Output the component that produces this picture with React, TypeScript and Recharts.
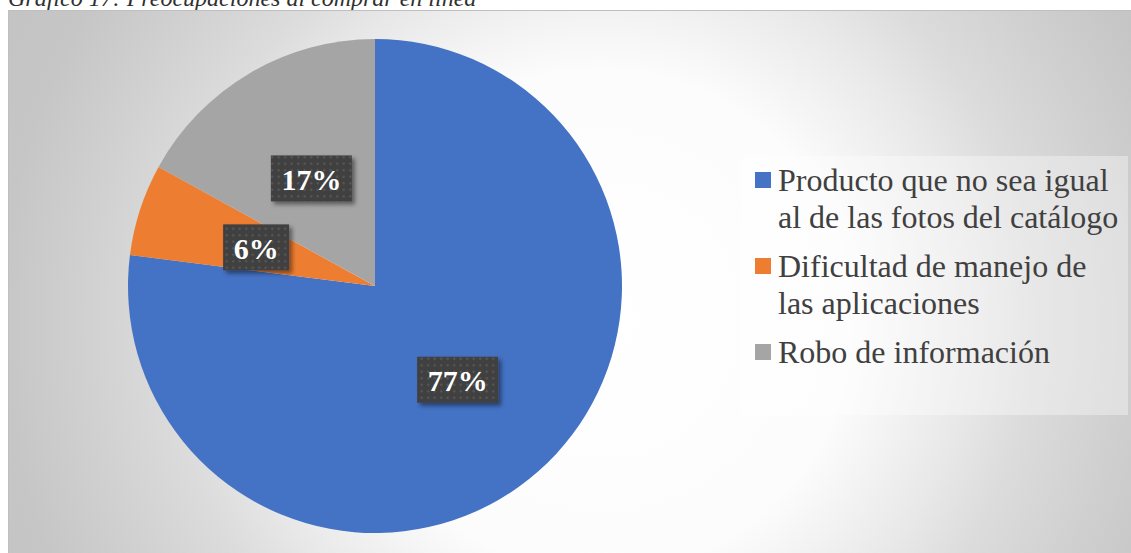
import React from 'react';
import { PieChart, Pie, Cell, Legend } from 'recharts';

const TITLE = 'Gráfico 17: Preocupaciones al comprar en línea';
const CATEGORIES = [
  'Producto que no sea igual al de las fotos del catálogo',
  'Dificultad de manejo de las aplicaciones',
  'Robo de información',
];
const VALUES = [77, 6, 17];
const COLORS = ['#4472C4', '#ED7D31', '#A5A5A5'];

const data = CATEGORIES.map((name, i) => ({ name, value: VALUES[i] }));

const RAD = Math.PI / 180;
const SERIF = "'Liberation Serif'";

const renderLabel = (props: any) => {
  const { cx, cy, midAngle, outerRadius, value } = props;
  const r = outerRadius * 0.506;
  const x = cx + r * Math.cos(-midAngle * RAD);
  const y = cy + r * Math.sin(-midAngle * RAD);
  const text = `${value}%`;
  const digits = String(value).length;
  const w = digits * 15 + 51;
  const h = 46;
  return (
    <g>
      <rect x={x - w / 2} y={y - h / 2} width={w} height={h} fill="url(#dotPattern)" filter="url(#lblShadow)" />
      <text
        x={x}
        y={y + 1}
        textAnchor="middle"
        dominantBaseline="central"
        fill="#ffffff"
        fontFamily={SERIF}
        fontWeight="bold"
        fontSize={30}
      >
        {text}
      </text>
    </g>
  );
};

const renderLegend = () => (
  <div
    style={{
      width: 387,
      height: 259,
      boxSizing: 'border-box',
      background: 'rgba(255,255,255,0.35)',
      paddingTop: 6,
      paddingLeft: 14,
      fontFamily: SERIF,
      fontSize: 32,
      lineHeight: '37px',
      color: '#404040',
    }}
  >
    {CATEGORIES.map((name, i) => (
      <div key={i} style={{ display: 'flex', alignItems: 'flex-start', marginBottom: 12 }}>
        <div
          style={{
            width: 16,
            height: 16,
            marginTop: 10,
            marginRight: 7,
            flex: '0 0 16px',
            background: COLORS[i],
          }}
        />
        <div style={{ width: 345 }}>{name}</div>
      </div>
    ))}
  </div>
);

export default function App() {
  return (
    <div
      style={{
        position: 'absolute',
        left: 0,
        top: 0,
        width: 1131,
        height: 553,
        overflow: 'hidden',
        background: '#ffffff',
      }}
    >
      <div
        style={{
          position: 'absolute',
          left: 8,
          top: -14,
          fontFamily: SERIF,
          fontStyle: 'italic',
          fontSize: 24,
          lineHeight: '24px',
          color: '#303030',
          whiteSpace: 'nowrap',
        }}
      >
        {TITLE}
      </div>
      <div
        style={{
          position: 'absolute',
          left: 8,
          top: 10,
          width: 1123,
          height: 543,
          boxSizing: 'border-box',
          borderTop: '1px solid #bfbfbf',
          borderLeft: '1px solid #bfbfbf',
          background:
            'radial-gradient(circle 720px at 592px 310px, #ffffff 0px, #fcfcfc 250px, #e8e8e8 370px, #dcdcdc 430px, #d0d0d0 520px, #c6c6c6 600px, #c2c2c2 720px)',
        }}
      >
        <PieChart width={1122} height={542} margin={{ top: 0, right: 0, bottom: 0, left: 0 }}>
          <defs>
            <pattern id="dotPattern" width="6.5" height="6.5" patternUnits="userSpaceOnUse">
              <rect width="6.5" height="6.5" fill="#404040" />
              <circle cx="3.2" cy="3.2" r="1.1" fill="#5c5c5c" />
            </pattern>
            <filter id="lblShadow" x="-20%" y="-20%" width="150%" height="160%">
              <feDropShadow dx="3" dy="3" stdDeviation="2.2" floodColor="#000000" floodOpacity="0.45" />
            </filter>
          </defs>
          <Pie
            data={data}
            dataKey="value"
            nameKey="name"
            cx={366}
            cy={275}
            outerRadius={247}
            startAngle={90}
            endAngle={-270}
            stroke="none"
            label={renderLabel}
            labelLine={false}
            isAnimationActive={false}
          >
            {data.map((_, i) => (
              <Cell key={i} fill={COLORS[i]} />
            ))}
          </Pie>
          <Legend
            content={renderLegend}
            wrapperStyle={{ position: 'absolute', left: 732, top: 145, width: 387, height: 259 }}
          />
        </PieChart>
      </div>
    </div>
  );
}
